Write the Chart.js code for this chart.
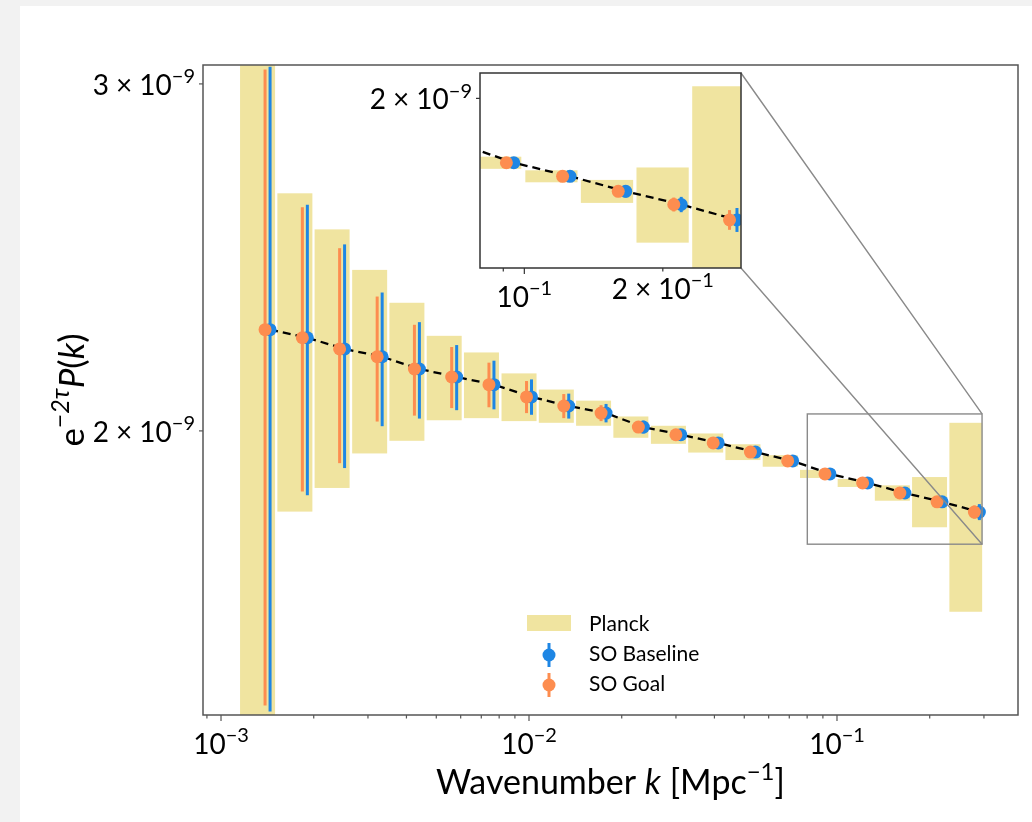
<!DOCTYPE html>
<html>
<head>
<meta charset="utf-8">
<script src="https://cdn.jsdelivr.net/npm/chart.js@4.4.1/dist/chart.umd.min.js"></script>
<style>
  html, body { margin: 0; padding: 0; background: #f2f2f2; }
  body { width: 1032px; height: 822px; position: relative; overflow: hidden; }
  #panel { position: absolute; left: 20px; top: 6px; right: 0; bottom: 0; background: #fff; }
  #main { position: absolute; left: 0; top: 0; }
  #inset { position: absolute; left: 355px; top: 60px; }
</style>
</head>
<body>
<div id="panel"></div>
<canvas id="main" width="1032" height="822"></canvas>
<canvas id="inset" width="400" height="260"></canvas>
<script>
// wavenumber of each bin [Mpc^-1]
const kGoal = [1.390e-3, 1.837e-3, 2.427e-3, 3.214e-3, 4.246e-3, 5.610e-3, 7.413e-3, 9.817e-3, 0.01297, 0.01714,
               0.02265, 0.02999, 0.03963, 0.05236, 0.06918, 0.09141, 0.1211, 0.1600, 0.2113, 0.2793];
const kBase = [1.443e-3, 1.907e-3, 2.519e-3, 3.336e-3, 4.407e-3, 5.823e-3, 7.695e-3, 0.01019, 0.01346, 0.01779,
               0.02351, 0.03113, 0.04114, 0.05435, 0.07181, 0.09488, 0.1257, 0.1661, 0.2193, 0.2899];
// Planck bin edges
const planckLo = [1.153e-3, 1.524e-3, 2.013e-3, 2.666e-3, 3.522e-3, 4.654e-3, 6.149e-3, 8.143e-3, 0.01076, 0.01422,
                  0.01879, 0.02488, 0.03287, 0.04343, 0.05739, 0.07583, 0.1005, 0.1327, 0.1753, 0.2317];
const planckHi = [1.498e-3, 1.980e-3, 2.615e-3, 3.463e-3, 4.575e-3, 6.045e-3, 7.988e-3, 0.01058, 0.01398, 0.01847,
                  0.02441, 0.03232, 0.04271, 0.05642, 0.07455, 0.09850, 0.1305, 0.1724, 0.2277, 0.2960];
// e^{-2tau} P(k) in units of 1e-9
const pk = [2.251, 2.230, 2.201, 2.181, 2.150, 2.130, 2.111, 2.081, 2.059, 2.042,
            2.009, 1.991, 1.972, 1.951, 1.931, 1.902, 1.882, 1.860, 1.841, 1.819];
const planckErr = [1.0, 0.41, 0.33, 0.233, 0.173, 0.105, 0.081, 0.058, 0.040, 0.030,
                   0.025, 0.021, 0.022, 0.018, 0.013, 0.009, 0.0088, 0.0167, 0.054, 0.20];
const baseErr = [0.81, 0.375, 0.286, 0.17, 0.121, 0.081, 0.060, 0.043, 0.030, 0.022,
                 0.015, 0.012, 0.010, 0.009, 0.008, 0.008, 0.008, 0.009, 0.011, 0.017];
const goalErr = [0.80, 0.367, 0.275, 0.159, 0.114, 0.076, 0.055, 0.039, 0.029, 0.019,
                 0.013, 0.010, 0.009, 0.008, 0.007, 0.007, 0.007, 0.008, 0.010, 0.014];

// axis ranges
const mainX = [8.74e-4, 0.387], mainY = [1.435, 3.067];
const zoomX = [0.0801, 0.2958], zoomY = [1.752, 2.04];

// ticks
const mainXMajor = [1e-3, 1e-2, 1e-1];
const mainXMinor = [9e-4, 2e-3, 3e-3, 4e-3, 5e-3, 6e-3, 7e-3, 8e-3, 9e-3,
                    2e-2, 3e-2, 4e-2, 5e-2, 6e-2, 7e-2, 8e-2, 9e-2, 2e-1, 3e-1];
const mainXLabels = [{ v: 1e-3, e: 3 }, { v: 1e-2, e: 2 }, { v: 1e-1, e: 1 }];
const mainYLabels = [{ v: 2, m: 2, e: 9 }, { v: 3, m: 3, e: 9 }];
const zoomXMajor = [0.1];
const zoomXMinor = [0.09, 0.2];
const zoomXLabels = [{ v: 0.1, e: 1 }, { v: 0.2, m: 2, e: 1 }];
const zoomYLabels = [{ v: 2, m: 2, e: 9 }];

const BLUE = '#1e86e4', ORANGE = '#fd8d4f', KHAKI = '#f0e4a0';
const FONT = 'Lato, "DejaVu Sans", sans-serif';
const TICK_SIZE = 28;

function drawRich(ctx, parts, x, y, size, align) {
  const font = p => (p.it ? 'italic ' : '') + (p.sup ? Math.round(size * 0.7) : size) + 'px ' + FONT;
  let w = 0;
  parts.forEach(p => { ctx.font = font(p); p.w = ctx.measureText(p.t).width + (p.gap || 0); w += p.w; });
  let cx = align === 'center' ? x - w / 2 : align === 'right' ? x - w : x;
  ctx.textAlign = 'left';
  ctx.textBaseline = 'alphabetic';
  parts.forEach(p => {
    ctx.font = font(p);
    ctx.fillText(p.t, cx + (p.gap || 0) / 2, p.sup ? y - size * 0.42 : y);
    cx += p.w;
  });
}

function sci(l) {
  const parts = l.m ? [{ t: String(l.m) }, { t: '\u00d7', gap: 14 }, { t: '10' }] : [{ t: '10' }];
  parts.push({ t: '\u2212' + l.e, sup: true });
  return parts;
}

function clipArea(ctx, a) {
  ctx.beginPath();
  ctx.rect(a.left, a.top, a.right - a.left, a.bottom - a.top);
  ctx.clip();
}

// Planck boxes behind everything, error bars just before their own points
const marksPlugin = {
  id: 'marks',
  beforeDatasetsDraw(chart) {
    const { ctx, chartArea: a, scales: { x, y } } = chart;
    ctx.save();
    clipArea(ctx, a);
    ctx.fillStyle = KHAKI;
    pk.forEach((v, i) => {
      const x0 = x.getPixelForValue(planckLo[i]), x1 = x.getPixelForValue(planckHi[i]);
      const y0 = y.getPixelForValue(v + planckErr[i]), y1 = y.getPixelForValue(v - planckErr[i]);
      ctx.fillRect(x0, y0, x1 - x0, y1 - y0);
    });
    ctx.restore();
  },
  beforeDatasetDraw(chart, args) {
    const ds = chart.data.datasets[args.index];
    if (!ds.errors) return;
    const { ctx, chartArea: a, scales: { x, y } } = chart;
    ctx.save();
    clipArea(ctx, a);
    ctx.strokeStyle = ds.backgroundColor;
    ctx.lineWidth = 3;
    ds.data.forEach((p, i) => {
      const px = x.getPixelForValue(p.x);
      ctx.beginPath();
      ctx.moveTo(px, y.getPixelForValue(p.y + ds.errors[i]));
      ctx.lineTo(px, y.getPixelForValue(p.y - ds.errors[i]));
      ctx.stroke();
    });
    ctx.restore();
  }
};

// frame, tick marks and tick labels
const axesPlugin = {
  id: 'axesDecor',
  beforeDraw(chart, args, o) {
    if (!o.whiteBg) return;
    const { ctx, chartArea: a } = chart;
    ctx.save();
    ctx.fillStyle = '#fff';
    ctx.fillRect(a.left, a.top, a.right - a.left, a.bottom - a.top);
    ctx.restore();
  },
  afterDraw(chart, args, o) {
    const { ctx, chartArea: a, scales: { x, y } } = chart;
    ctx.save();
    ctx.strokeStyle = o.frame;
    ctx.lineWidth = 1.5;
    ctx.strokeRect(a.left, a.top, a.right - a.left, a.bottom - a.top);
    ctx.lineWidth = 1.2;
    const tick = (x0, y0, x1, y1) => { ctx.beginPath(); ctx.moveTo(x0, y0); ctx.lineTo(x1, y1); ctx.stroke(); };
    o.xMajor.forEach(v => { const px = x.getPixelForValue(v); tick(px, a.bottom, px, a.bottom + 6); });
    o.xMinor.forEach(v => { const px = x.getPixelForValue(v); tick(px, a.bottom, px, a.bottom + 3.5); });
    o.yLabels.forEach(l => { const py = y.getPixelForValue(l.v); tick(a.left - 4, py, a.left, py); });
    ctx.fillStyle = '#000';
    o.xLabels.forEach(l => {
      drawRich(ctx, sci(l), x.getPixelForValue(l.v), a.bottom + (l.m ? 31 : 39), TICK_SIZE, 'center');
    });
    o.yLabels.forEach(l => {
      drawRich(ctx, sci(l), a.left - 8, y.getPixelForValue(l.v) + 11, TICK_SIZE, 'right');
    });
    ctx.restore();
  }
};

function datasets() {
  return [
    {
      label: 'theory', data: kBase.map((k, i) => ({ x: k, y: pk[i] })),
      showLine: true, borderColor: '#000', borderWidth: 2.3, borderDash: [8, 5],
      pointRadius: 0, order: 3, clip: 0
    },
    {
      label: 'SO Baseline', data: kBase.map((k, i) => ({ x: k, y: pk[i] })), errors: baseErr,
      backgroundColor: BLUE, pointRadius: 6.5, pointBorderWidth: 0, order: 2, clip: 0
    },
    {
      label: 'SO Goal', data: kGoal.map((k, i) => ({ x: k, y: pk[i] })), errors: goalErr,
      backgroundColor: ORANGE, pointRadius: 6.5, pointBorderWidth: 0, order: 1, clip: 0
    }
  ];
}

function logAxis(range, fit) {
  return {
    type: 'logarithmic', min: range[0], max: range[1], bounds: 'data',
    ticks: { display: false }, grid: { display: false }, border: { display: false },
    afterFit: fit
  };
}

Chart.defaults.animation = false;

const insetCanvas = document.getElementById('inset');
const insetChart = new Chart(insetCanvas, {
  type: 'scatter',
  data: { datasets: datasets() },
  options: {
    responsive: false, events: [],
    layout: { padding: { top: 13, right: 14, left: 0, bottom: 0 } },
    scales: {
      x: logAxis(zoomX, s => { s.height = 52; }),
      y: logAxis(zoomY, s => { s.width = 125; })
    },
    plugins: {
      legend: { display: false }, tooltip: { enabled: false },
      axesDecor: { whiteBg: true, frame: '#333', xMajor: zoomXMajor, xMinor: zoomXMinor, xLabels: zoomXLabels, yLabels: zoomYLabels }
    }
  },
  plugins: [marksPlugin, axesPlugin]
});

// zoom box, connectors, axis titles and legend on the main axes
const overlayPlugin = {
  id: 'overlay',
  afterDraw(chart) {
    const { ctx, chartArea: a, scales: { x, y } } = chart;
    ctx.save();
    const rx0 = x.getPixelForValue(zoomX[0]), rx1 = x.getPixelForValue(zoomX[1]);
    const ry0 = y.getPixelForValue(zoomY[1]), ry1 = y.getPixelForValue(zoomY[0]);
    const ia = insetChart.chartArea;
    const ix = insetCanvas.offsetLeft + ia.right;
    const iyTop = insetCanvas.offsetTop + ia.top, iyBot = insetCanvas.offsetTop + ia.bottom;
    ctx.strokeStyle = '#8a8a8a';
    ctx.lineWidth = 1.4;
    ctx.strokeRect(rx0, ry0, rx1 - rx0, ry1 - ry0);
    ctx.beginPath();
    ctx.moveTo(ix, iyTop); ctx.lineTo(rx1, ry0);
    ctx.moveTo(ix, iyBot); ctx.lineTo(rx1, ry1);
    ctx.stroke();

    // legend
    ctx.fillStyle = KHAKI;
    ctx.fillRect(527, 615, 44, 16);
    [[BLUE, 655], [ORANGE, 685]].forEach(([c, cy]) => {
      ctx.strokeStyle = c; ctx.fillStyle = c; ctx.lineWidth = 3;
      ctx.beginPath(); ctx.moveTo(549, cy - 12); ctx.lineTo(549, cy + 12); ctx.stroke();
      ctx.beginPath(); ctx.arc(549, cy, 6.5, 0, Math.PI * 2); ctx.fill();
    });
    ctx.fillStyle = '#000';
    ctx.font = '21px ' + FONT;
    ctx.textAlign = 'left';
    ctx.textBaseline = 'alphabetic';
    ctx.fillText('Planck', 589, 631);
    ctx.fillText('SO Baseline', 589, 661);
    ctx.fillText('SO Goal', 589, 691);

    // axis titles
    drawRich(ctx, [{ t: 'Wavenumber ' }, { t: 'k', it: true }, { t: ' [Mpc' }, { t: '\u22121', sup: true }, { t: ']' }],
      (a.left + a.right) / 2, 794, 34, 'center');
    ctx.translate(84, (a.top + a.bottom) / 2);
    ctx.rotate(-Math.PI / 2);
    drawRich(ctx, [{ t: 'e' }, { t: '\u22122\u03c4', sup: true, it: true }, { t: 'P', it: true }, { t: '(' }, { t: 'k', it: true }, { t: ')' }],
      0, 0, 35, 'center');
    ctx.restore();
  }
};

new Chart(document.getElementById('main'), {
  type: 'scatter',
  data: { datasets: datasets() },
  options: {
    responsive: false, events: [],
    layout: { padding: { top: 65, right: 14, left: 0, bottom: 0 } },
    scales: {
      x: logAxis(mainX, s => { s.height = 107; }),
      y: logAxis(mainY, s => { s.width = 203; })
    },
    plugins: {
      legend: { display: false }, tooltip: { enabled: false },
      axesDecor: { frame: '#555', xMajor: mainXMajor, xMinor: mainXMinor, xLabels: mainXLabels, yLabels: mainYLabels }
    }
  },
  plugins: [marksPlugin, axesPlugin, overlayPlugin]
});
</script>
</body>
</html>
